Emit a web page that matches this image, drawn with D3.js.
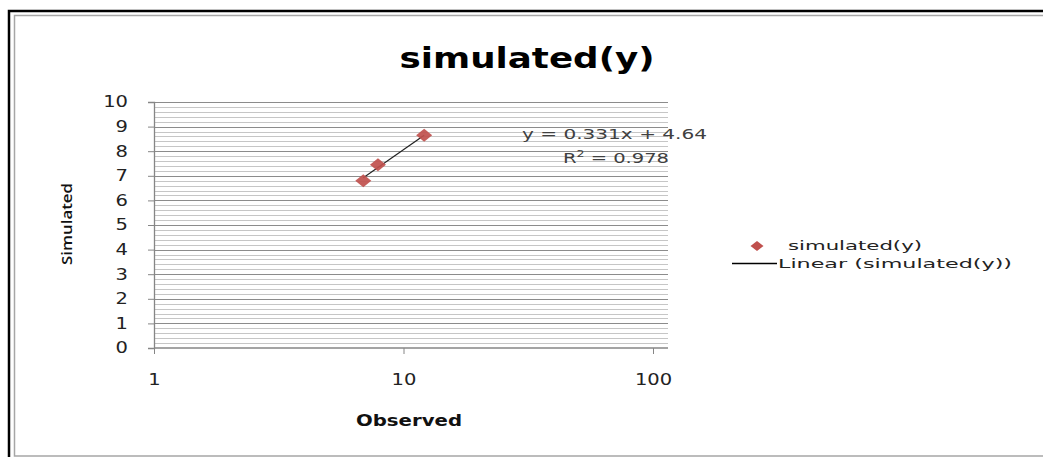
<!DOCTYPE html>
<html>
<head>
<meta charset="utf-8">
<script src="https://cdn.jsdelivr.net/npm/d3@7"></script>
<style>
  html, body { margin: 0; padding: 0; background: #fff; }
  svg { display: block; }
</style>
</head>
<body>
<svg id="chart" width="1043" height="457"></svg>
<script>
// Observed vs simulated values
const observed = [6.9, 7.9, 12.1];
const simulated = [6.8, 7.45, 8.65];

// Linear trendline as reported on the chart
const slope = 0.331;
const intercept = 4.64;
const rSquared = 0.978;

const xTicks = [1, 10, 100];
const yTicks = [0, 1, 2, 3, 4, 5, 6, 7, 8, 9, 10];
const yMinorStep = 0.2;

const titleText = "simulated(y)";
const xTitle = "Observed";
const yTitle = "Simulated";
const legendLabels = ["simulated(y)", "Linear (simulated(y))"];

const svg = d3.select("#chart");
const W = 1043, H = 457;
const font = "DejaVu Sans, Verdana, sans-serif";

// Widen text horizontally to a given length (or by a factor of its natural width)
function widen(sel, len) {
  sel.each(function () {
    const n = this.getComputedTextLength();
    const target = typeof len === "function" ? len(n) : len;
    d3.select(this).attr("textLength", target).attr("lengthAdjust", "spacingAndGlyphs");
  });
}

// Frame
svg.append("rect").attr("x", 9).attr("y", 11).attr("width", W + 10).attr("height", H + 10)
  .attr("fill", "none").attr("stroke", "#000").attr("stroke-width", 2.5);
svg.append("rect").attr("x", 14.5).attr("y", 15.5).attr("width", W + 10).attr("height", 440.5)
  .attr("fill", "none").attr("stroke", "#a6a6a6").attr("stroke-width", 1.5);

const plot = { left: 154, right: 668, top: 102, bottom: 348 };

const x = d3.scaleLog().domain([1, 100]).range([plot.left, 653]);
const y = d3.scaleLinear().domain([0, 10]).range([plot.bottom, plot.top]);

// Minor gridlines
const minor = d3.range(0, 10 + 1e-9, yMinorStep).filter(v => Math.abs(v - Math.round(v)) > 1e-6);
svg.append("g").selectAll("line").data(minor).join("line")
  .attr("x1", plot.left).attr("x2", plot.right)
  .attr("y1", d => Math.round(y(d)) + 0.5).attr("y2", d => Math.round(y(d)) + 0.5)
  .attr("stroke", "#c6c6c6").attr("stroke-width", 1);

// Major gridlines
svg.append("g").selectAll("line").data(yTicks.slice(1)).join("line")
  .attr("x1", plot.left).attr("x2", plot.right)
  .attr("y1", d => Math.round(y(d)) + 0.5).attr("y2", d => Math.round(y(d)) + 0.5)
  .attr("stroke", "#8c8c8c").attr("stroke-width", 1.2);

// Y axis
const yAxis = svg.append("g").attr("transform", `translate(${plot.left},0)`)
  .call(d3.axisLeft(y).tickValues(yTicks).tickSize(6).tickPadding(20).tickFormat(d3.format("d")));
yAxis.select(".domain").attr("stroke", "#868686").attr("stroke-width", 1.3);
yAxis.selectAll(".tick line").attr("stroke", "#868686");
yAxis.selectAll(".tick text").attr("font-family", font).attr("font-size", 15).attr("fill", "#222")
  .call(widen, n => n * 1.3);

// X axis
const xAxis = svg.append("g").attr("transform", `translate(0,${plot.bottom})`)
  .call(d3.axisBottom(x).tickValues(xTicks).tickSize(6).tickPadding(20).tickFormat(d3.format("d")));
xAxis.select(".domain").attr("d", `M${plot.left},0H${plot.right}`)
  .attr("stroke", "#868686").attr("stroke-width", 1.3);
xAxis.selectAll(".tick line").attr("stroke", "#868686");
xAxis.selectAll(".tick text").attr("font-family", font).attr("font-size", 15).attr("fill", "#222")
  .call(widen, n => n * 1.3);

// Trendline between the smallest and largest observation
const xMin = d3.min(observed), xMax = d3.max(observed);
const trendPts = [xMin, xMax].map(xv => [xv, slope * xv + intercept]);
svg.append("path").datum(trendPts)
  .attr("d", d3.line().x(d => x(d[0])).y(d => y(d[1])))
  .attr("fill", "none").attr("stroke", "#222").attr("stroke-width", 1.2);

// Diamond marker, slightly wider than tall
const diamondPath = (hw, hh) => `M0,${-hh}L${hw},0L0,${hh}L${-hw},0Z`;
svg.append("g").selectAll("path").data(observed).join("path")
  .attr("d", diamondPath(8, 6.5))
  .attr("transform", (d, i) => `translate(${x(d)},${y(simulated[i])})`)
  .attr("fill", "#c0504d").attr("fill-opacity", 0.92);

// Trendline equation
svg.append("text").attr("x", 707).attr("y", 139).attr("text-anchor", "end")
  .attr("font-family", font).attr("font-size", 14).attr("fill", "#404040")
  .text(`y = ${slope}x + ${intercept}`).call(widen, 185);
const r2 = svg.append("text").attr("x", 669).attr("y", 163).attr("text-anchor", "end")
  .attr("font-family", font).attr("font-size", 14).attr("fill", "#404040");
r2.append("tspan").text("R");
r2.append("tspan").attr("font-size", 9).attr("dy", -6).text("2");
r2.append("tspan").attr("dy", 6).text(` = ${rSquared}`);
r2.call(widen, 106);

// Title
svg.append("text").attr("x", 527).attr("y", 68).attr("text-anchor", "middle")
  .attr("font-family", font).attr("font-weight", "bold").attr("font-size", 29).attr("fill", "#000")
  .text(titleText).call(widen, 255);

// Axis titles
svg.append("text").attr("x", 409).attr("y", 426).attr("text-anchor", "middle")
  .attr("font-family", font).attr("font-weight", "bold").attr("font-size", 16).attr("fill", "#111")
  .text(xTitle).call(widen, 106);
svg.append("text").attr("transform", "translate(72,224) rotate(-90)").attr("text-anchor", "middle")
  .attr("font-family", "Open Sans, sans-serif").attr("font-weight", 600).attr("font-size", 15).attr("fill", "#111")
  .text(yTitle).call(widen, 82);

// Legend
const lg = svg.append("g");
lg.append("path").attr("d", diamondPath(6.5, 5))
  .attr("transform", "translate(757,246)").attr("fill", "#c0504d");
lg.append("text").attr("x", 788).attr("y", 250)
  .attr("font-family", font).attr("font-size", 13).attr("fill", "#222")
  .text(legendLabels[0]).call(widen, 134);
lg.append("line").attr("x1", 732).attr("x2", 777).attr("y1", 263.5).attr("y2", 263.5)
  .attr("stroke", "#000").attr("stroke-width", 1.3);
lg.append("text").attr("x", 778).attr("y", 268)
  .attr("font-family", font).attr("font-size", 13).attr("fill", "#222")
  .text(legendLabels[1]).call(widen, 234);
</script>
</body>
</html>
